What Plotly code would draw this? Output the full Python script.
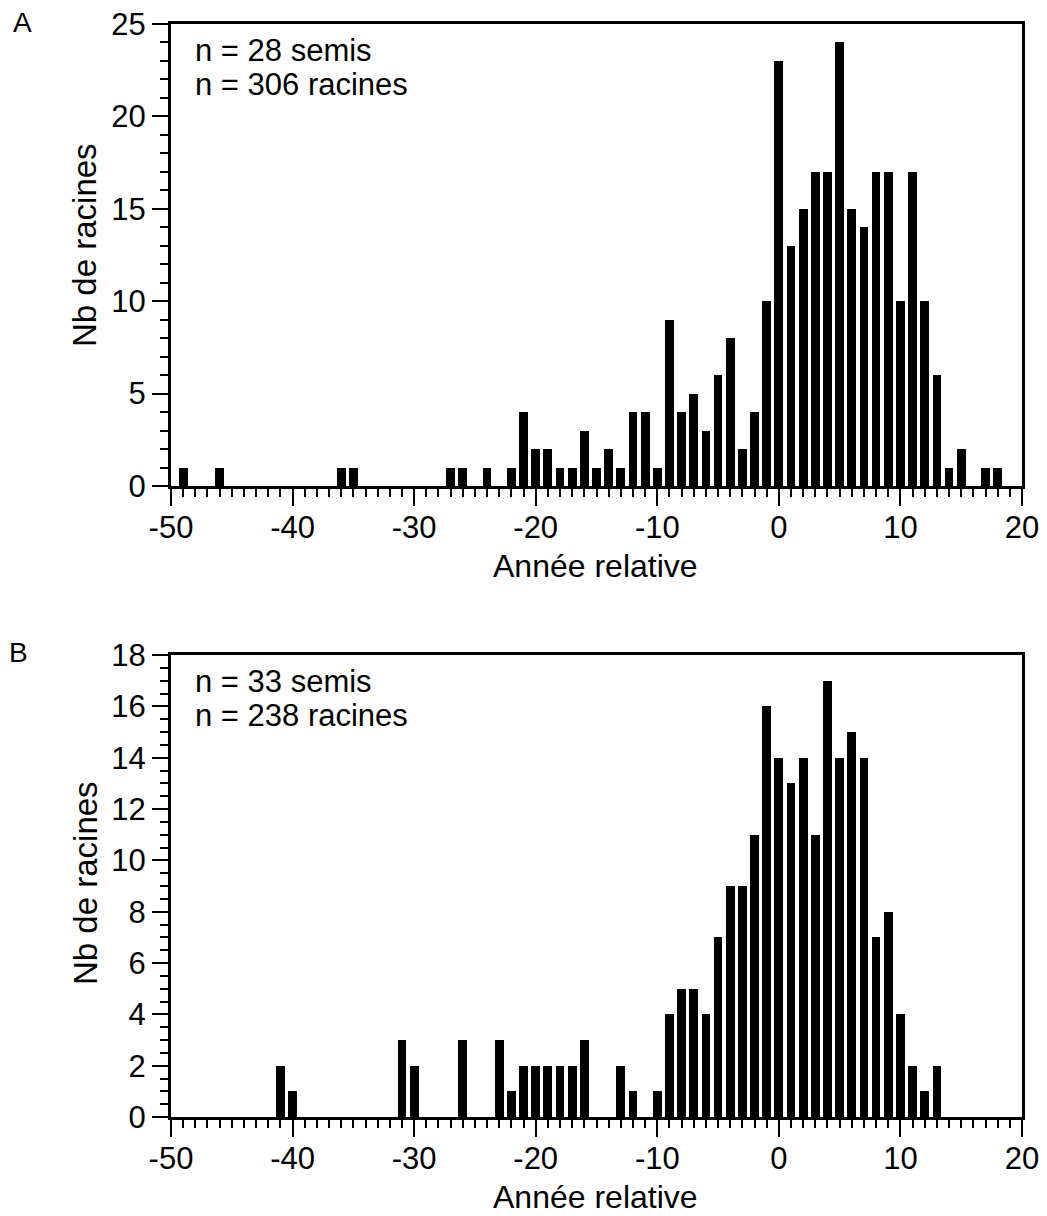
import plotly.graph_objects as go

# Panel A data
years_a = [-49, -46, -36, -35, -27, -26, -24, -22, -21, -20, -19, -18, -17, -16, -15, -14,
           -13, -12, -11, -10, -9, -8, -7, -6, -5, -4, -3, -2, -1, 0, 1, 2, 3, 4, 5, 6, 7,
           8, 9, 10, 11, 12, 13, 14, 15, 17, 18]
counts_a = [1, 1, 1, 1, 1, 1, 1, 1, 4, 2, 2, 1, 1, 3, 1, 2,
            1, 4, 4, 1, 9, 4, 5, 3, 6, 8, 2, 4, 10, 23, 13, 15, 17, 17, 24, 15, 14,
            17, 17, 10, 17, 10, 6, 1, 2, 1, 1]

# Panel B data
years_b = [-41, -40, -31, -30, -26, -23, -22, -21, -20, -19, -18, -17, -16, -13, -12, -10,
           -9, -8, -7, -6, -5, -4, -3, -2, -1, 0, 1, 2, 3, 4, 5, 6, 7, 8, 9, 10, 11, 12, 13]
counts_b = [2, 1, 3, 2, 3, 3, 1, 2, 2, 2, 2, 2, 3, 2, 1, 1,
            4, 5, 5, 4, 7, 9, 9, 11, 16, 14, 13, 14, 11, 17, 14, 15, 14, 7, 8, 4, 2, 1, 2]

x_ticks = [-50, -40, -30, -20, -10, 0, 10, 20]
x_ticktext = ["-50", "-40", "-30", "-20", "-10", "0", "10", "20"]
y_ticks_a = [0, 5, 10, 15, 20, 25]
y_ticks_b = [0, 2, 4, 6, 8, 10, 12, 14, 16, 18]
text_a = ["n = 28 semis", "n = 306 racines"]
text_b = ["n = 33 semis", "n = 238 racines"]
x_title = "Année relative"
y_title = "Nb de racines"

# page body has an 8px margin at top/left
OFF = 8
FW, FH = 1047 - OFF, 1216 - OFF
FONT = "Liberation Sans, Arial, Helvetica, sans-serif"


def px_x(p):
    return (p - OFF) / FW


def px_y(p):
    return (FH - (p - OFF)) / FH


fig = go.Figure()
fig.add_trace(go.Bar(x=years_a, y=counts_a, width=0.72, marker=dict(color="black", line=dict(width=0)),
                     xaxis="x", yaxis="y", showlegend=False))
fig.add_trace(go.Bar(x=years_b, y=counts_b, width=0.72, marker=dict(color="black", line=dict(width=0)),
                     xaxis="x2", yaxis="y2", showlegend=False))

xdom = [px_x(171), px_x(1022)]
ydom_a = [px_y(486), px_y(24)]
ydom_b = [px_y(1117), px_y(655)]


def xaxis_cfg(anchor):
    return dict(
        domain=xdom, anchor=anchor, range=[-50, 20], tickmode="array",
        tickvals=x_ticks, ticktext=x_ticktext,
        ticks="outside", ticklen=17, tickwidth=2, tickcolor="black",
        minor=dict(dtick=1, ticks="outside", ticklen=8, tickwidth=1.5, tickcolor="black"),
        showline=True, linewidth=3, linecolor="black", mirror=True,
        showgrid=False, zeroline=False, automargin=False, ticklabeloverflow="allow",
        ticklabelstandoff=-5,
        tickfont=dict(family=FONT, size=31, color="black"),
    )


def yaxis_cfg(anchor, dom, ymax, ticks, minor):
    return dict(
        domain=dom, anchor=anchor, range=[0, ymax], tickmode="array", tickvals=ticks,
        ticks="outside", ticklen=16, tickwidth=2, tickcolor="black",
        minor=dict(dtick=minor, tick0=0, ticks="outside", ticklen=8, tickwidth=1.5, tickcolor="black"),
        showline=True, linewidth=3, linecolor="black", mirror=True,
        showgrid=False, zeroline=False, automargin=False, ticklabeloverflow="allow",
        tickfont=dict(family=FONT, size=31, color="black"),
    )


fig.update_layout(
    width=FW, height=FH,
    margin=dict(l=0, r=0, t=0, b=0),
    paper_bgcolor="white", plot_bgcolor="white",
    bargap=0,
    xaxis=xaxis_cfg("y"),
    yaxis=yaxis_cfg("x", ydom_a, 25, y_ticks_a, 1),
    xaxis2=xaxis_cfg("y2"),
    yaxis2=yaxis_cfg("x2", ydom_b, 18, y_ticks_b, 0.5),
    font=dict(family=FONT, color="black"),
)

anns = []
line_y = [0.942, 0.868]
for i, t in enumerate(text_a):
    anns.append(dict(text=t, xref="x domain", yref="y domain", x=0.026, y=line_y[i],
                     xanchor="left", yanchor="middle", showarrow=False,
                     font=dict(family=FONT, size=31, color="black")))
for i, t in enumerate(text_b):
    anns.append(dict(text=t, xref="x2 domain", yref="y2 domain", x=0.026, y=line_y[i],
                     xanchor="left", yanchor="middle", showarrow=False,
                     font=dict(family=FONT, size=31, color="black")))
# axis titles
for cy in (566, 1197):
    anns.append(dict(text=x_title, xref="paper", yref="paper", x=px_x(595), y=px_y(cy),
                     xanchor="center", yanchor="middle", showarrow=False,
                     font=dict(family=FONT, size=32, color="black")))
for cy in (245, 883):
    anns.append(dict(text=y_title, xref="paper", yref="paper", x=px_x(85), y=px_y(cy),
                     xanchor="center", yanchor="middle", showarrow=False, textangle=-90,
                     font=dict(family=FONT, size=33, color="black")))
# panel letters
anns.append(dict(text="A", xref="paper", yref="paper", x=px_x(22), y=px_y(22),
                 xanchor="center", yanchor="middle", showarrow=False,
                 font=dict(family=FONT, size=28, color="black")))
anns.append(dict(text="B", xref="paper", yref="paper", x=px_x(18), y=px_y(653),
                 xanchor="center", yanchor="middle", showarrow=False,
                 font=dict(family=FONT, size=28, color="black")))
fig.update_layout(annotations=anns)

fig.write_html("out.html")
